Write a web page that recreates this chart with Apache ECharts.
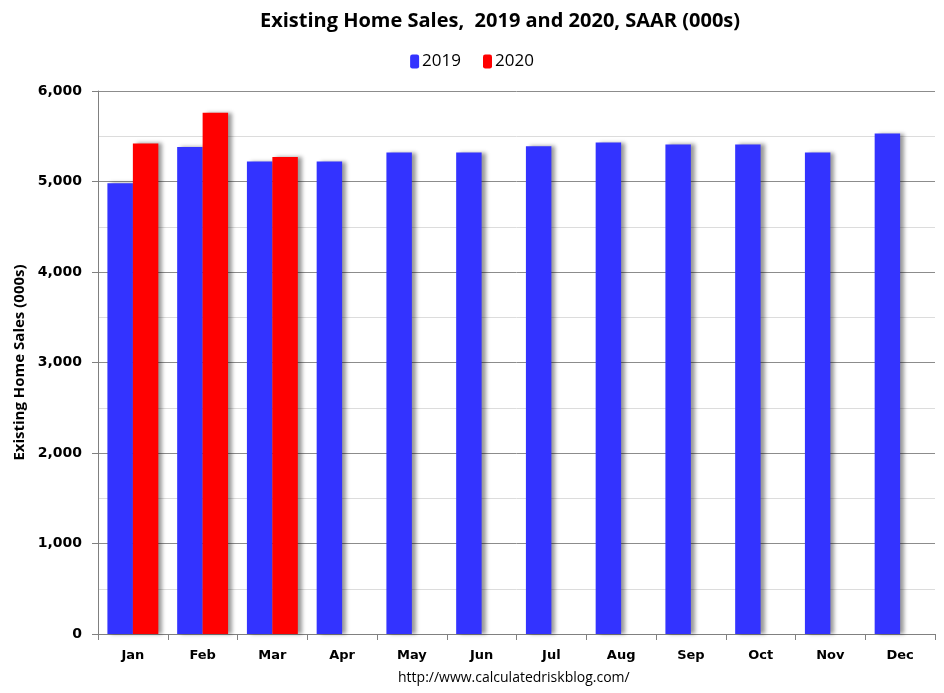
<!DOCTYPE html>
<html><head><meta charset="utf-8">
<script src="https://cdn.jsdelivr.net/npm/echarts@6/dist/echarts.min.js"></script>
<style>html,body{margin:0;padding:0;background:#fff}#c{width:944px;height:693px}</style>
</head><body><div id="c"></div>
<script>
const months = ['Jan','Feb','Mar','Apr','May','Jun','Jul','Aug','Sep','Oct','Nov','Dec'];
const sales2019 = [4980,5380,5220,5220,5320,5320,5390,5430,5410,5410,5320,5530];
const sales2020 = [5420,5760,5270,null,null,null,null,null,null,null,null,null];
const yTicks = {min:0, max:6000, interval:1000};

const shadow = {shadowColor:'rgba(0,0,0,0.4)', shadowBlur:4, shadowOffsetX:4, shadowOffsetY:0};
const chart = echarts.init(document.getElementById('c'));
chart.setOption({
  animation:false,
  backgroundColor:'#fff',
  title:{text:'Existing Home Sales,  2019 and 2020, SAAR (000s)', left:495, textAlign:'center', top:6,
    textStyle:{fontFamily:'Liberation Sans Narrow, Open Sans, sans-serif', fontWeight:'bold', fontSize:20, color:'#000'}},
  legend:{top:48, left:'center', itemWidth:9, itemHeight:14, itemGap:22,
    textStyle:{fontFamily:'Liberation Sans Narrow, Open Sans, sans-serif', fontSize:17, color:'#000', padding:[0,0,0,-2]},
    data:['2019','2020']},
  graphic:[{type:'text', left:398, top:671, style:{text:'http://www.calculatedriskblog.com/', font:'14px "Liberation Sans Narrow", "Open Sans", sans-serif', fill:'#000'}}],
  grid:{left:98, right:9, top:91, bottom:59},
  xAxis:{type:'category', data:months,
    axisLine:{lineStyle:{color:'#808080'}},
    axisTick:{show:true, length:6, lineStyle:{color:'#808080'}},
    axisLabel:{margin:15, fontFamily:'DejaVu Sans, Verdana, sans-serif', fontWeight:'bold', fontSize:13, color:'#000'}},
  yAxis:{type:'value', min:yTicks.min, max:yTicks.max, interval:yTicks.interval,
    name:'Existing Home Sales (000s)', nameLocation:'middle', nameGap:68,
    nameTextStyle:{fontFamily:'Liberation Sans Narrow, Open Sans, sans-serif', fontWeight:'bold', fontSize:15, color:'#000'},
    axisLine:{show:true, lineStyle:{color:'#808080'}},
    axisTick:{show:true, length:6, lineStyle:{color:'#808080'}},
    axisLabel:{margin:16, fontFamily:'DejaVu Sans, Verdana, sans-serif', fontWeight:'bold', fontSize:14, color:'#000',
      formatter:v=>v.toLocaleString('en-US')},
    splitLine:{lineStyle:{color:'#8c8c8c'}},
    minorTick:{show:false, splitNumber:2},
    minorSplitLine:{show:true, lineStyle:{color:'#dcdcdc'}}},
  series:[
    {name:'2019', type:'bar', data:sales2019, barGap:'0%', barCategoryGap:'27%', itemStyle:Object.assign({color:'#3333ff'}, shadow)},
    {name:'2020', type:'bar', data:sales2020, itemStyle:Object.assign({color:'#ff0000'}, shadow)}
  ]
});
</script></body></html>
